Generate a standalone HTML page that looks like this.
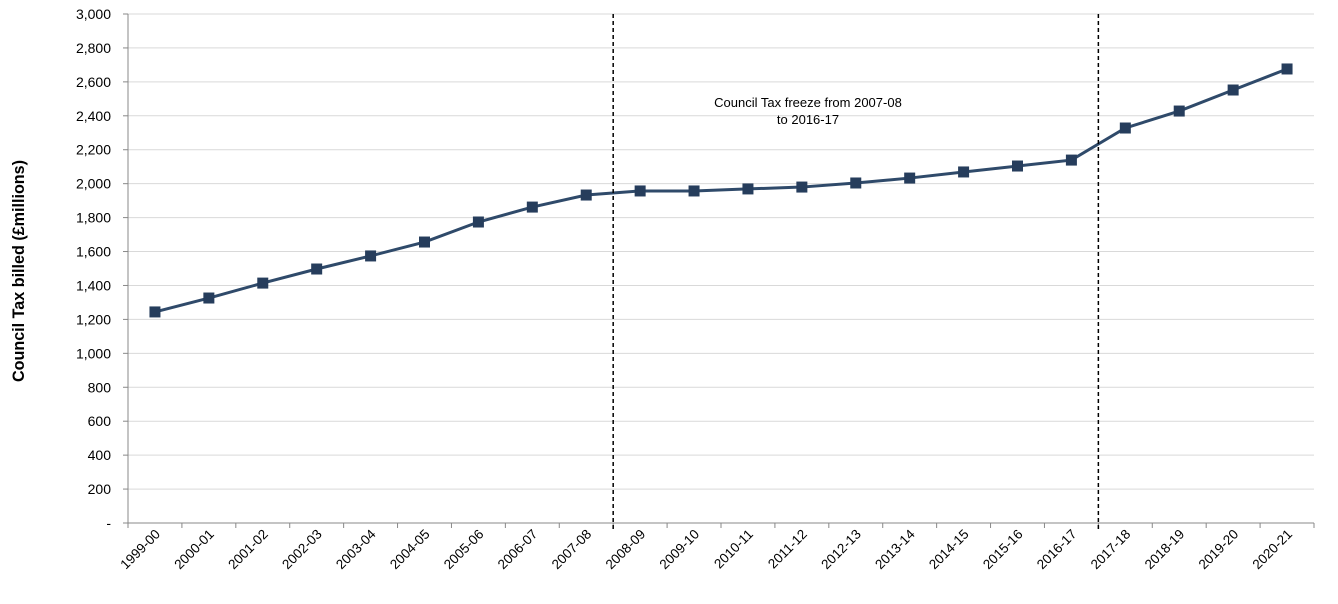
<!DOCTYPE html>
<html><head><meta charset="utf-8"><style>
body{margin:0;background:#fff;}
svg{display:block;font-family:"Liberation Sans",Arial,sans-serif;}
</style></head><body>
<svg id="chart" width="1338" height="604" viewBox="0 0 1338 604">
<g id="grid"></g>
<g id="yticks"></g>
<g id="xticks"></g>
<g id="series"></g>
<text transform="translate(24,271) rotate(-90)" text-anchor="middle" font-size="17" font-weight="bold" fill="#000" textLength="222" lengthAdjust="spacingAndGlyphs">Council Tax billed (£millions)</text>
<text x="808" y="107" text-anchor="middle" font-size="13" fill="#000">Council Tax freeze from 2007-08</text>
<text x="808" y="124" text-anchor="middle" font-size="13" fill="#000">to 2016-17</text>
</svg>
<script>
const categories=["1999-00","2000-01","2001-02","2002-03","2003-04","2004-05","2005-06","2006-07","2007-08","2008-09","2009-10","2010-11","2011-12","2012-13","2013-14","2014-15","2015-16","2016-17","2017-18","2018-19","2019-20","2020-21"];
const values=[1244,1326,1414,1497,1574,1656,1774,1862,1933,1957,1957,1969,1980,2004,2033,2069,2104,2139,2328,2428,2552,2676];
const yTicks=[0,200,400,600,800,1000,1200,1400,1600,1800,2000,2200,2400,2600,2800,3000];
const freezeBounds=[9,18];
const L=128,R=1314,T=14,B=523,YMAX=3000;
const bw=(R-L)/categories.length;
const x=i=>L+bw*(i+0.5);
const y=v=>B-(v/YMAX)*(B-T);
const NS="http://www.w3.org/2000/svg";
function mk(tag,attrs,parent){const e=document.createElementNS(NS,tag);for(const k in attrs)e.setAttribute(k,attrs[k]);parent.appendChild(e);return e;}
const grid=document.getElementById('grid'),yt=document.getElementById('yticks'),xt=document.getElementById('xticks'),ser=document.getElementById('series'),svg=document.getElementById('chart');
yTicks.forEach(v=>{
  if(v>0){const g=mk('line',{x1:L,x2:R,y1:y(v),y2:y(v),stroke:'#d9d9d9','stroke-width':1},grid);
  
  }
  const tm=mk('line',{x1:L-5,x2:L,y1:y(v),y2:y(v),stroke:'#888'},yt);
  
  
  const t=mk('text',{x:L-17,y:y(v)+5,'text-anchor':'end','font-size':14,fill:'#000'},yt);
  t.textContent=v===0?'-':v.toLocaleString('en-US');
  
  
});
const ax=mk('line',{x1:L,x2:L,y1:T,y2:B,stroke:'#888'},yt);


const xa=mk('line',{x1:L,x2:R,y1:B,y2:B,stroke:'#888'},xt);


for(let i=0;i<=categories.length;i++){
  const tm=mk('line',{x1:L+bw*i,x2:L+bw*i,y1:B,y2:B+5,stroke:'#888'},xt);
  
  
}
categories.forEach((c,i)=>{
  const t=mk('text',{transform:`translate(${x(i)+6},${B+12}) rotate(-45)`,'text-anchor':'end','font-size':13.5,fill:'#000'},xt);
  t.textContent=c;
  
  
});
freezeBounds.forEach(b=>{
  const d=mk('line',{x1:L+bw*b,x2:L+bw*b,y1:T,y2:B+8,stroke:'#000','stroke-width':1.5,'stroke-dasharray':'4,3'},svg);
  
  
});
const p=mk('polyline',{points:values.map((v,i)=>x(i)+','+y(v)).join(' '),fill:'none',stroke:'#2f4a6a','stroke-width':3},ser);


values.forEach((v,i)=>{
  const r=mk('rect',{x:x(i)-5.5,y:y(v)-5.5,width:11,height:11,fill:'#263d5c'},ser);
  
  
});
</script>
</body></html>
